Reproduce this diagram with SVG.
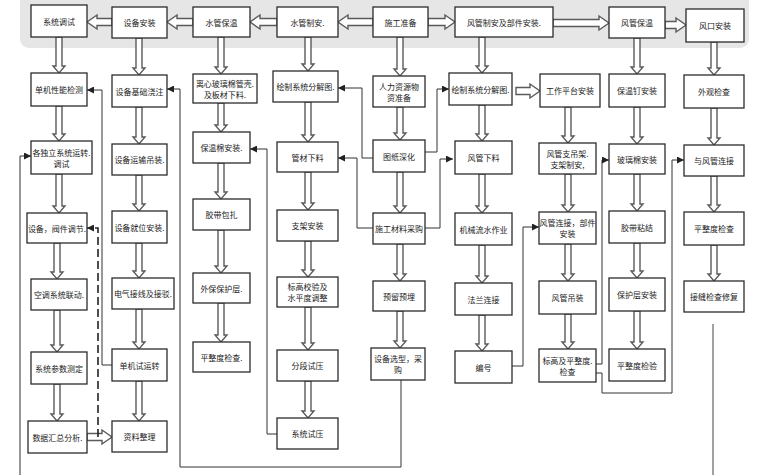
<svg xmlns="http://www.w3.org/2000/svg" width="760" height="475" viewBox="0 0 760 475">
<style>
.box{fill:#fff;stroke:#2b2b2b;stroke-width:1.3}
.t{font-family:"Noto Sans CJK SC","Noto Sans",sans-serif;font-size:8px;fill:#222;text-anchor:middle;dominant-baseline:central}
.ba{fill:#fff;stroke:#5a5a5a;stroke-width:1.4}
.ln{fill:none;stroke:#333;stroke-width:1;marker-end:url(#ah)}
.pl{fill:none;stroke:#444;stroke-width:1}
.dash{fill:none;stroke:#222;stroke-width:1.6;stroke-dasharray:8 4;marker-end:url(#ah)}
</style>
<defs>
<marker id="ah" markerUnits="userSpaceOnUse" markerWidth="7" markerHeight="7" refX="7" refY="3.5" orient="auto"><path d="M0,0L7,3.5L0,7z" fill="#222"/></marker>
</defs>
<rect x="20" y="-10" width="729" height="58" rx="9" fill="#e6e6e6"/>

<g id="connectors">
<path class="ba" d="M112,18.5H97V15L87,22L97,29V25.5H112Z"/>
<path class="ba" d="M193,18.5H177V15L167,22L177,29V25.5H193Z"/>
<path class="ba" d="M277,18.5H260V15L250,22L260,29V25.5H277Z"/>
<path class="ba" d="M373,18.5H348V15L338,22L348,29V25.5H373Z"/>
<path class="ba" d="M428,18.5H445V15L455,22L445,29V25.5H428Z"/>
<path class="ba" d="M553,19.5H599V16L609,23L599,30V26.5H553Z"/>
<path class="ba" d="M665,21.5H676V18L686,25L676,32V28.5H665Z"/>
<path class="ba" d="M516,87.5H530V84L540,91L530,98V94.5H516Z"/>
<path class="ba" d="M87,433.5H102V430L112,437L102,444V440.5H87Z"/>

<path class="ba" d="M56,37V66H53L59,73L65,66H62V37Z"/>
<path class="ba" d="M56,106V134H53L59,141L65,134H62V106Z"/>
<path class="ba" d="M56,174V206H53L59,213L65,206H62V174Z"/>
<path class="ba" d="M54,243V272H51L57,279L63,272H60V243Z"/>
<path class="ba" d="M54,310V345H51L57,352L63,345H60V310Z"/>
<path class="ba" d="M54,384V414H51L57,421L63,414H60V384Z"/>

<path class="ba" d="M136,38V68H133L139,75L145,68H142V38Z"/>
<path class="ba" d="M136,107V137H133L139,144L145,137H142V107Z"/>
<path class="ba" d="M136,175V204H133L139,211L145,204H142V175Z"/>
<path class="ba" d="M136,243V271H133L139,278L145,271H142V243Z"/>
<path class="ba" d="M136,309V342H133L139,349L145,342H142V309Z"/>
<path class="ba" d="M136,381V414H133L139,421L145,414H142V381Z"/>

<path class="ba" d="M218,37V67H215L221,74L227,67H224V37Z"/>
<path class="ba" d="M218,103V125H215L221,132L227,125H224V103Z"/>
<path class="ba" d="M218,163V192H215L221,199L227,192H224V163Z"/>
<path class="ba" d="M218,230V266H215L221,273L227,266H224V230Z"/>
<path class="ba" d="M218,303V335H215L221,342L227,335H224V303Z"/>

<path class="ba" d="M305,37V64H302L308,71L314,64H311V37Z"/>
<path class="ba" d="M305,102V135H302L308,142L314,135H311V102Z"/>
<path class="ba" d="M305,172V203H302L308,210L314,203H311V172Z"/>
<path class="ba" d="M305,241V270H302L308,277L314,270H311V241Z"/>
<path class="ba" d="M305,307V343H302L308,350L314,343H311V307Z"/>
<path class="ba" d="M305,381V411H302L308,418L314,411H311V381Z"/>

<path class="ba" d="M397,37V69H394L400,76L406,69H403V37Z"/>
<path class="ba" d="M397,107V133H394L400,140L406,133H403V107Z"/>
<path class="ba" d="M397,172V206H394L400,213L406,206H403V172Z"/>
<path class="ba" d="M397,244V274H394L400,281L406,274H403V244Z"/>
<path class="ba" d="M397,311V341H394L400,348L406,341H403V311Z"/>

<path class="ba" d="M479,37V66H476L482,73L488,66H485V37Z"/>
<path class="ba" d="M479,105V134H476L482,141L488,134H485V105Z"/>
<path class="ba" d="M479,174V206H476L482,213L488,206H485V174Z"/>
<path class="ba" d="M479,245V276H476L482,283L488,276H485V245Z"/>
<path class="ba" d="M479,315V344H476L482,351L488,344H485V315Z"/>

<path class="ba" d="M565,107V136H562L568,143L574,136H571V107Z"/>
<path class="ba" d="M565,174V205H562L568,212L574,205H571V174Z"/>
<path class="ba" d="M565,244V274H562L568,281L574,274H571V244Z"/>
<path class="ba" d="M565,314V342H562L568,349L574,342H571V314Z"/>

<path class="ba" d="M634,38V67H631L637,74L643,67H640V38Z"/>
<path class="ba" d="M634,107V137H631L637,144L643,137H640V107Z"/>
<path class="ba" d="M634,174V204H631L637,211L643,204H640V174Z"/>
<path class="ba" d="M634,243V271H631L637,278L643,271H640V243Z"/>
<path class="ba" d="M634,311V342H631L637,349L643,342H640V311Z"/>

<path class="ba" d="M711,42V68H708L714,75L720,68H717V42Z"/>
<path class="ba" d="M711,108V138H708L714,145L720,138H717V108Z"/>
<path class="ba" d="M711,176V205H708L714,212L720,205H717V176Z"/>
<path class="ba" d="M711,245V274H708L714,281L720,274H717V245Z"/>

<path class="ln" d="M112,365H102V90H87"/>
<path class="ln" d="M401,380V467H180V89H167"/>
<path class="ln" d="M277,434H267V149H250"/>
<path class="ln" d="M373,158H362V88H338"/>
<path class="ln" d="M373,228H357V158H338"/>
<path class="ln" d="M425,152H437V89H449"/>
<path class="ln" d="M425,228H440V159H453"/>
<path class="ln" d="M512,366H523V227H539"/>
<path class="ln" d="M596,364H602V160H609"/>
<path class="ln" d="M596,373H602V393H672V160H684"/>
<path class="ln" d="M20,475V156H31"/>
<path class="pl" d="M713,324V475"/>
<path class="dash" d="M98,437V228H87"/>
</g>

<g id="n-xttiaoshi"><rect class="box" x="31" y="5" width="56" height="32"/><text class="t" x="59" y="21">系统调试</text></g>
<g id="n-sbaz"><rect class="box" x="112" y="7" width="55" height="31"/><text class="t" x="139.5" y="22.5">设备安装</text></g>
<g id="n-sgbw"><rect class="box" x="193" y="7" width="57" height="30"/><text class="t" x="221.5" y="22">水管保温</text></g>
<g id="n-sgza"><rect class="box" x="277" y="7" width="61" height="30"/><text class="t" x="307.5" y="22">水管制安.</text></g>
<g id="n-sgzb"><rect class="box" x="373" y="7" width="55" height="30"/><text class="t" x="400.5" y="22">施工准备</text></g>
<g id="n-fgza"><rect class="box" x="455" y="7" width="98" height="30"/><text class="t" x="504" y="22">风管制安及部件安装.</text></g>
<g id="n-fgbw"><rect class="box" x="609" y="7" width="56" height="31"/><text class="t" x="637" y="22.5">风管保温</text></g>
<g id="n-fkaz"><rect class="box" x="686" y="9" width="58" height="33"/><text class="t" x="715" y="25.5">风口安装</text></g>

<g id="n-a1"><rect class="box" x="31" y="73" width="56" height="33"/><text class="t" x="59" y="89.5">单机性能检测</text></g>
<g id="n-a2"><rect class="box" x="31" y="141" width="61" height="33"/><text class="t" x="61.5" y="152">各独立系统运转.</text><text class="t" x="61.5" y="163">调试</text></g>
<g id="n-a3"><rect class="box" x="27" y="213" width="60" height="30"/><text class="t" x="57" y="228">设备，阀件调节.</text></g>
<g id="n-a4"><rect class="box" x="31" y="279" width="56" height="31"/><text class="t" x="59" y="294.5">空调系统联动.</text></g>
<g id="n-a5"><rect class="box" x="31" y="352" width="56" height="32"/><text class="t" x="59" y="368">系统参数测定</text></g>
<g id="n-a6"><rect class="box" x="28" y="421" width="59" height="32"/><text class="t" x="57.5" y="437">数据汇总分析.</text></g>

<g id="n-b1"><rect class="box" x="112" y="75" width="55" height="32"/><text class="t" x="139.5" y="91">设备基础浇注</text></g>
<g id="n-b2"><rect class="box" x="112" y="144" width="55" height="31"/><text class="t" x="139.5" y="159.5">设备运输吊装.</text></g>
<g id="n-b3"><rect class="box" x="112" y="211" width="55" height="32"/><text class="t" x="139.5" y="227">设备就位安装.</text></g>
<g id="n-b4"><rect class="box" x="112" y="278" width="62" height="31"/><text class="t" x="143" y="293.5">电气接线及接驳.</text></g>
<g id="n-b5"><rect class="box" x="112" y="349" width="55" height="32"/><text class="t" x="139.5" y="365">单机试运转</text></g>
<g id="n-b6"><rect class="box" x="112" y="421" width="55" height="31"/><text class="t" x="139.5" y="436.5">资料整理</text></g>

<g id="n-c1"><rect class="box" x="193" y="74" width="64" height="29"/><text class="t" x="225" y="83">离心玻璃棉管壳.</text><text class="t" x="225" y="94">及板材下料.</text></g>
<g id="n-c2"><rect class="box" x="193" y="132" width="57" height="31"/><text class="t" x="221.5" y="147.5">保温棉安装.</text></g>
<g id="n-c3"><rect class="box" x="193" y="199" width="57" height="31"/><text class="t" x="221.5" y="214.5">胶带包扎</text></g>
<g id="n-c4"><rect class="box" x="193" y="273" width="57" height="30"/><text class="t" x="221.5" y="288">外保保护层.</text></g>
<g id="n-c5"><rect class="box" x="193" y="342" width="57" height="30"/><text class="t" x="221.5" y="357">平整度检查.</text></g>

<g id="n-d1"><rect class="box" x="273" y="71" width="65" height="31"/><text class="t" x="305.5" y="86.5">绘制系统分解图.</text></g>
<g id="n-d2"><rect class="box" x="277" y="142" width="61" height="30"/><text class="t" x="307.5" y="157">管材下料</text></g>
<g id="n-d3"><rect class="box" x="277" y="210" width="61" height="31"/><text class="t" x="307.5" y="225.5">支架安装</text></g>
<g id="n-d4"><rect class="box" x="277" y="277" width="61" height="30"/><text class="t" x="307.5" y="286.5">标高校验及</text><text class="t" x="307.5" y="297.5">水平度调整</text></g>
<g id="n-d5"><rect class="box" x="277" y="350" width="61" height="31"/><text class="t" x="307.5" y="365.5">分段试压</text></g>
<g id="n-d6"><rect class="box" x="277" y="418" width="61" height="31"/><text class="t" x="307.5" y="433.5">系统试压</text></g>

<g id="n-e1"><rect class="box" x="373" y="76" width="52" height="31"/><text class="t" x="399" y="86">人力资源物</text><text class="t" x="399" y="97">资准备</text></g>
<g id="n-e2"><rect class="box" x="373" y="140" width="52" height="32"/><text class="t" x="399" y="156">图纸深化</text></g>
<g id="n-e3"><rect class="box" x="373" y="213" width="52" height="31"/><text class="t" x="399" y="228.5">施工材料采购</text></g>
<g id="n-e4"><rect class="box" x="373" y="281" width="52" height="30"/><text class="t" x="399" y="296">预留预埋</text></g>
<g id="n-e5"><rect class="box" x="371" y="348" width="54" height="32"/><text class="t" x="398" y="358.5">设备选型，采</text><text class="t" x="398" y="369.5">购</text></g>

<g id="n-f1"><rect class="box" x="449" y="73" width="63" height="32"/><text class="t" x="480.5" y="89">绘制系统分解图.</text></g>
<g id="n-f2"><rect class="box" x="455" y="141" width="57" height="33"/><text class="t" x="483.5" y="157.5">风管下料</text></g>
<g id="n-f3"><rect class="box" x="455" y="213" width="57" height="32"/><text class="t" x="483.5" y="229">机械流水作业</text></g>
<g id="n-f4"><rect class="box" x="455" y="283" width="57" height="32"/><text class="t" x="483.5" y="299">法兰连接</text></g>
<g id="n-f5"><rect class="box" x="455" y="351" width="57" height="32"/><text class="t" x="483.5" y="367">编号</text></g>

<g id="n-g1"><rect class="box" x="540" y="74" width="60" height="33"/><text class="t" x="570" y="90.5">工作平台安装</text></g>
<g id="n-g2"><rect class="box" x="539" y="143" width="57" height="31"/><text class="t" x="567.5" y="153">风管支吊架.</text><text class="t" x="567.5" y="164">支架制安,</text></g>
<g id="n-g3"><rect class="box" x="539" y="212" width="57" height="32"/><text class="t" x="567.5" y="222.5">风管连接，部件</text><text class="t" x="567.5" y="233.5">安装</text></g>
<g id="n-g4"><rect class="box" x="539" y="281" width="57" height="33"/><text class="t" x="567.5" y="297.5">风管吊装</text></g>
<g id="n-g5"><rect class="box" x="539" y="349" width="57" height="33"/><text class="t" x="567.5" y="360">标高及平整度.</text><text class="t" x="567.5" y="371">检查</text></g>

<g id="n-h1"><rect class="box" x="609" y="74" width="56" height="33"/><text class="t" x="637" y="90.5">保温钉安装</text></g>
<g id="n-h2"><rect class="box" x="609" y="144" width="56" height="30"/><text class="t" x="637" y="159">玻璃棉安装</text></g>
<g id="n-h3"><rect class="box" x="609" y="211" width="56" height="32"/><text class="t" x="637" y="227">胶带粘结</text></g>
<g id="n-h4"><rect class="box" x="609" y="278" width="56" height="33"/><text class="t" x="637" y="294.5">保护层安装</text></g>
<g id="n-h5"><rect class="box" x="609" y="349" width="56" height="32"/><text class="t" x="637" y="365">平整度检验</text></g>

<g id="n-i1"><rect class="box" x="684" y="75" width="60" height="33"/><text class="t" x="714" y="91.5">外观检查</text></g>
<g id="n-i2"><rect class="box" x="684" y="145" width="60" height="31"/><text class="t" x="714" y="160.5">与风管连接</text></g>
<g id="n-i3"><rect class="box" x="684" y="212" width="60" height="33"/><text class="t" x="714" y="228.5">平整度检查</text></g>
<g id="n-i4"><rect class="box" x="684" y="281" width="60" height="31"/><text class="t" x="714" y="296.5">接缝检查修复</text></g>
</svg>
